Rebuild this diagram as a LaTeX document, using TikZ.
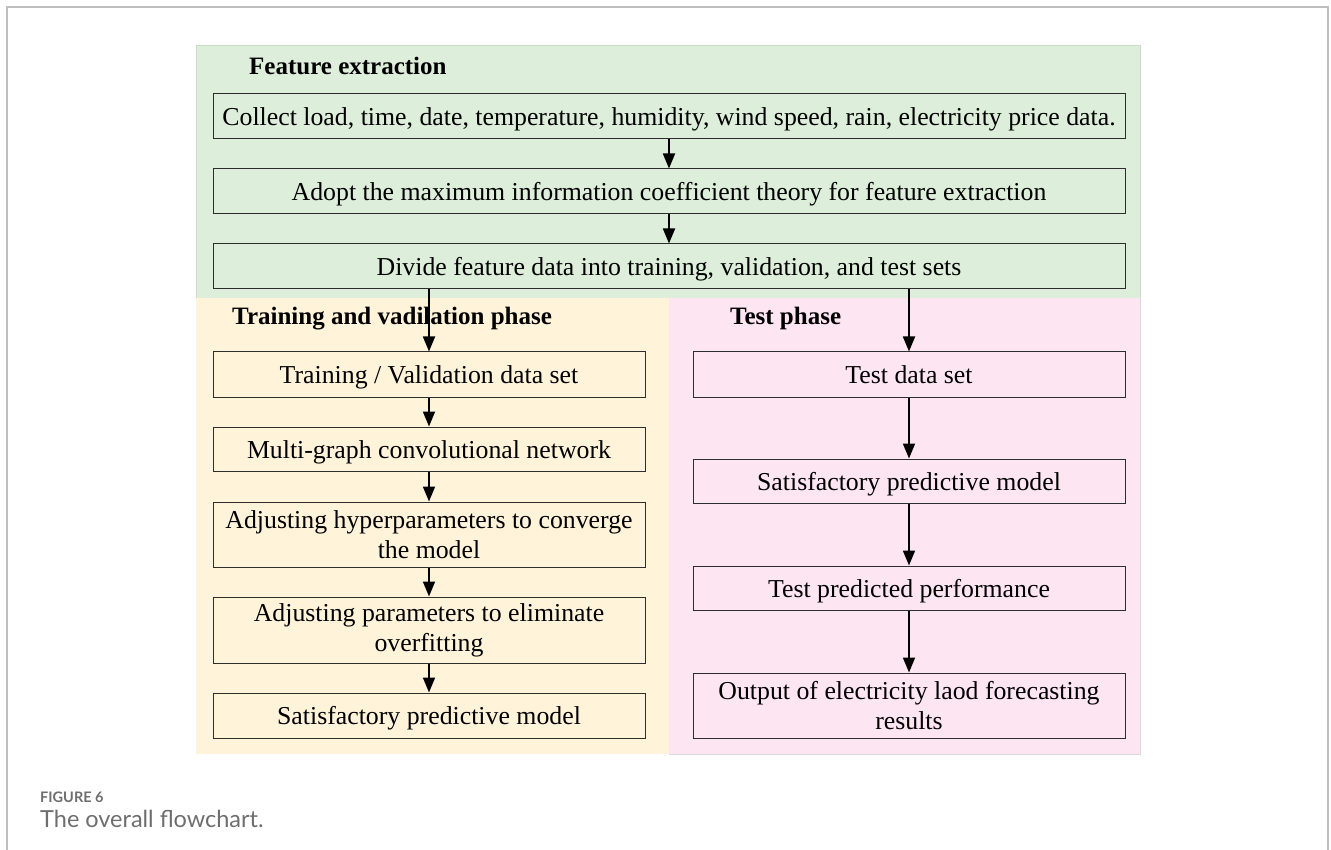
\documentclass[tikz,border=0pt]{standalone}
\usepackage{fontspec}
\setmainfont{Liberation Serif}
\newfontfamily\capfont{Lato}
\usetikzlibrary{arrows.meta,positioning,calc}
\definecolor{featbg}{RGB}{221,238,218}
\definecolor{featline}{RGB}{200,222,198}
\definecolor{trainbg}{RGB}{255,243,218}
\definecolor{testbg}{RGB}{253,229,242}
\definecolor{boxline}{RGB}{45,45,45}
\definecolor{capgray}{RGB}{110,110,110}
\begin{document}
\begin{tikzpicture}[x=1pt,y=-1pt,
  stepbox/.style={draw=boxline,line width=1pt,inner sep=0pt,align=center,
    font=\fontsize{25.8}{30}\selectfont},
  oneline/.style={text height=22pt,text depth=4pt},
  phase/.style={anchor=west,inner sep=0pt,font=\fontsize{25}{28}\selectfont\bfseries},
  arr/.style={line width=1.8pt,-{Triangle[length=15pt,width=12pt]}}]
\useasboundingbox (0,0) rectangle (1331,850);
% page frame
\draw[black!25,line width=1.2pt] (7,850) -- (7,7) -- (1328,7) -- (1328,850);
% phase panels
\fill[featbg] (196,46) rectangle (1140,298);
\draw[featline,line width=1pt] (196,298) -- (196,46) -- (1140,46) -- (1140,298);
\fill[trainbg] (196,298) rectangle (669,754);
\fill[testbg] (669,298) rectangle (1140,754);
\draw[black!15,line width=1pt] (1140,298) -- (1140,754) -- (669,754);
% phase titles
\node[phase] (t1) at (249,66) {Feature extraction};
\node[phase] (t2) at (232,319) {Training and vadilation phase};
\node[phase] (t3) at (730,318) {Test phase};
% feature extraction steps
\node[stepbox,oneline,minimum width=912pt,minimum height=45pt] (b1) at (669,116.5)
  {Collect load, time, date, temperature, humidity, wind speed, rain, electricity price data.};
\node[stepbox,oneline,minimum width=912pt,minimum height=45pt] (b2) at (669,191.5)
  {Adopt the maximum information coefficient theory for feature extraction};
\node[stepbox,oneline,minimum width=912pt,minimum height=45pt] (b3) at (669,266.5)
  {Divide feature data into training, validation, and test sets};
% training and validation steps
\node[stepbox,oneline,minimum width=432pt,minimum height=45pt] (l1) at (429,374.5)
  {Training / Validation data set};
\node[stepbox,oneline,minimum width=432pt,minimum height=44pt] (l2) at (429,449)
  {Multi-graph convolutional network};
\node[stepbox,minimum width=432pt,minimum height=65pt] (l3) at (429,534.5)
  {Adjusting hyperparameters to converge\\the model};
\node[stepbox,minimum width=432pt,minimum height=66pt] (l4) at (429,630)
  {Adjusting parameters to eliminate\\overfitting};
\node[stepbox,oneline,minimum width=432pt,minimum height=45pt] (l5) at (429,715.5)
  {Satisfactory predictive model};
% test steps
\node[stepbox,oneline,minimum width=432pt,minimum height=45pt] (r1) at (909,374.5)
  {Test data set};
\node[stepbox,oneline,minimum width=432pt,minimum height=44pt] (r2) at (909,481)
  {Satisfactory predictive model};
\node[stepbox,oneline,minimum width=432pt,minimum height=44pt] (r3) at (909,588)
  {Test predicted performance};
\node[stepbox,minimum width=432pt,minimum height=65pt] (r4) at (909,705.5)
  {Output of electricity laod forecasting\\results};
% connectors
\draw[arr] (b1) -- (b2);
\draw[arr] (b2) -- (b3);
\draw[arr] (b3.south -| l1.north) -- (l1.north);
\draw[arr] (b3.south -| r1.north) -- (r1.north);
\draw[arr] (l1) -- (l2);
\draw[arr] (l2) -- (l3);
\draw[arr] (l3) -- (l4);
\draw[arr] (l4) -- (l5);
\draw[arr] (r1) -- (r2);
\draw[arr] (r2) -- (r3);
\draw[arr] (r3) -- (r4);
% caption
\node[anchor=west,inner sep=0pt,text=capgray,font=\capfont\bfseries\fontsize{14.5}{16}\selectfont] (cap1) at (40,797) {FIGURE 6};
\node[anchor=west,inner sep=0pt,text=capgray,font=\capfont\fontsize{23.5}{26}\selectfont] (cap2) at (40,819) {The overall flowchart.};
\end{tikzpicture}
\end{document}
